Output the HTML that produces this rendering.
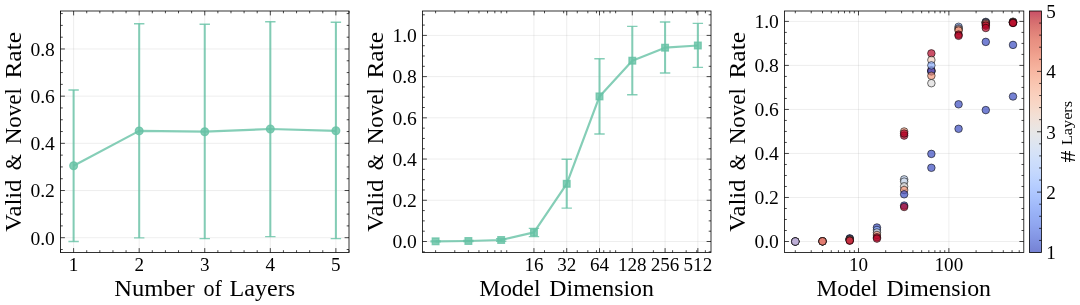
<!DOCTYPE html>
<html><head><meta charset="utf-8"><title>Valid &amp; Novel Rate</title>
<style>html,body{margin:0;padding:0;background:#fff}svg{display:block}</style></head>
<body>
<svg width="1080" height="305" viewBox="0 0 1080 305" font-family="'Liberation Serif', 'DejaVu Serif', serif">
<rect width="1080" height="305" fill="#fff"/>
<line x1="73.61" x2="73.61" y1="11.0" y2="252.5" stroke="#b0b0b0" stroke-opacity="0.27" stroke-width="0.8"/>
<line x1="139.18" x2="139.18" y1="11.0" y2="252.5" stroke="#b0b0b0" stroke-opacity="0.27" stroke-width="0.8"/>
<line x1="204.75" x2="204.75" y1="11.0" y2="252.5" stroke="#b0b0b0" stroke-opacity="0.27" stroke-width="0.8"/>
<line x1="270.32" x2="270.32" y1="11.0" y2="252.5" stroke="#b0b0b0" stroke-opacity="0.27" stroke-width="0.8"/>
<line x1="335.89" x2="335.89" y1="11.0" y2="252.5" stroke="#b0b0b0" stroke-opacity="0.27" stroke-width="0.8"/>
<line x1="60.5" x2="349" y1="237.7" y2="237.7" stroke="#b0b0b0" stroke-opacity="0.27" stroke-width="0.8"/>
<line x1="60.5" x2="349" y1="190.52" y2="190.52" stroke="#b0b0b0" stroke-opacity="0.27" stroke-width="0.8"/>
<line x1="60.5" x2="349" y1="143.34" y2="143.34" stroke="#b0b0b0" stroke-opacity="0.27" stroke-width="0.8"/>
<line x1="60.5" x2="349" y1="96.16" y2="96.16" stroke="#b0b0b0" stroke-opacity="0.27" stroke-width="0.8"/>
<line x1="60.5" x2="349" y1="48.98" y2="48.98" stroke="#b0b0b0" stroke-opacity="0.27" stroke-width="0.8"/>
<g stroke="#66c2a5" fill="#66c2a5" stroke-opacity="0.8" fill-opacity="0.8">
<path d="M73.61 165.7L139.18 130.9L204.75 131.7L270.32 129L335.89 130.8" fill="none" stroke-width="2.2" stroke-linejoin="round"/>
<circle cx="73.61" cy="165.7" r="3.85" stroke-width="1.33"/>
<circle cx="139.18" cy="130.9" r="3.85" stroke-width="1.33"/>
<circle cx="204.75" cy="131.7" r="3.85" stroke-width="1.33"/>
<circle cx="270.32" cy="129" r="3.85" stroke-width="1.33"/>
<circle cx="335.89" cy="130.8" r="3.85" stroke-width="1.33"/>
<line x1="73.61" x2="73.61" y1="90" y2="241.5" stroke-width="2.05"/>
<line x1="139.18" x2="139.18" y1="23.7" y2="237.9" stroke-width="2.05"/>
<line x1="204.75" x2="204.75" y1="24.3" y2="238.6" stroke-width="2.05"/>
<line x1="270.32" x2="270.32" y1="21.7" y2="236.6" stroke-width="2.05"/>
<line x1="335.89" x2="335.89" y1="22.3" y2="238.6" stroke-width="2.05"/>
<path d="M68.41 90h10.4M68.41 241.5h10.4M133.98 23.7h10.4M133.98 237.9h10.4M199.55 24.3h10.4M199.55 238.6h10.4M265.12 21.7h10.4M265.12 236.6h10.4M330.69 22.3h10.4M330.69 238.6h10.4" fill="none" stroke-width="1.4"/>
</g>
<path d="M73.61 252.5v-4.4M73.61 11v4.4M139.18 252.5v-4.4M139.18 11v4.4M204.75 252.5v-4.4M204.75 11v4.4M270.32 252.5v-4.4M270.32 11v4.4M335.89 252.5v-4.4M335.89 11v4.4M60.5 252.5v-2.3M60.5 11v2.3M86.73 252.5v-2.3M86.73 11v2.3M99.84 252.5v-2.3M99.84 11v2.3M112.95 252.5v-2.3M112.95 11v2.3M126.07 252.5v-2.3M126.07 11v2.3M152.3 252.5v-2.3M152.3 11v2.3M165.41 252.5v-2.3M165.41 11v2.3M178.52 252.5v-2.3M178.52 11v2.3M191.64 252.5v-2.3M191.64 11v2.3M217.86 252.5v-2.3M217.86 11v2.3M230.98 252.5v-2.3M230.98 11v2.3M244.09 252.5v-2.3M244.09 11v2.3M257.2 252.5v-2.3M257.2 11v2.3M283.43 252.5v-2.3M283.43 11v2.3M296.55 252.5v-2.3M296.55 11v2.3M309.66 252.5v-2.3M309.66 11v2.3M322.77 252.5v-2.3M322.77 11v2.3M349 252.5v-2.3M349 11v2.3M60.5 237.7h4.4M349 237.7h-4.4M60.5 190.52h4.4M349 190.52h-4.4M60.5 143.34h4.4M349 143.34h-4.4M60.5 96.16h4.4M349 96.16h-4.4M60.5 48.98h4.4M349 48.98h-4.4M60.5 249.5h2.3M349 249.5h-2.3M60.5 225.9h2.3M349 225.9h-2.3M60.5 214.11h2.3M349 214.11h-2.3M60.5 202.31h2.3M349 202.31h-2.3M60.5 178.72h2.3M349 178.72h-2.3M60.5 166.93h2.3M349 166.93h-2.3M60.5 155.13h2.3M349 155.13h-2.3M60.5 131.54h2.3M349 131.54h-2.3M60.5 119.75h2.3M349 119.75h-2.3M60.5 107.95h2.3M349 107.95h-2.3M60.5 84.36h2.3M349 84.36h-2.3M60.5 72.57h2.3M349 72.57h-2.3M60.5 60.77h2.3M349 60.77h-2.3M60.5 37.19h2.3M349 37.19h-2.3M60.5 25.39h2.3M349 25.39h-2.3M60.5 13.59h2.3M349 13.59h-2.3" stroke="#000" stroke-width="0.72" fill="none"/>
<rect x="60.5" y="11.0" width="288.5" height="241.5" fill="none" stroke="#000" stroke-width="0.8"/>
<text x="73.61" y="270.7" font-size="19.5" text-anchor="middle" fill="#000" textLength="9.55" lengthAdjust="spacingAndGlyphs">1</text>
<text x="139.18" y="270.7" font-size="19.5" text-anchor="middle" fill="#000" textLength="9.55" lengthAdjust="spacingAndGlyphs">2</text>
<text x="204.75" y="270.7" font-size="19.5" text-anchor="middle" fill="#000" textLength="9.55" lengthAdjust="spacingAndGlyphs">3</text>
<text x="270.32" y="270.7" font-size="19.5" text-anchor="middle" fill="#000" textLength="9.55" lengthAdjust="spacingAndGlyphs">4</text>
<text x="335.89" y="270.7" font-size="19.5" text-anchor="middle" fill="#000" textLength="9.55" lengthAdjust="spacingAndGlyphs">5</text>
<text x="54.9" y="244.5" font-size="19.5" text-anchor="end" fill="#000" textLength="24.5" lengthAdjust="spacingAndGlyphs">0.0</text>
<text x="54.9" y="197.32" font-size="19.5" text-anchor="end" fill="#000" textLength="24.5" lengthAdjust="spacingAndGlyphs">0.2</text>
<text x="54.9" y="150.14" font-size="19.5" text-anchor="end" fill="#000" textLength="24.5" lengthAdjust="spacingAndGlyphs">0.4</text>
<text x="54.9" y="102.96" font-size="19.5" text-anchor="end" fill="#000" textLength="24.5" lengthAdjust="spacingAndGlyphs">0.6</text>
<text x="54.9" y="55.78" font-size="19.5" text-anchor="end" fill="#000" textLength="24.5" lengthAdjust="spacingAndGlyphs">0.8</text>
<text x="114.2" y="295.7" font-size="23.2" text-anchor="start" fill="#000" textLength="80.4" lengthAdjust="spacingAndGlyphs">Number</text>
<text x="203.4" y="295.7" font-size="23.2" text-anchor="start" fill="#000" textLength="18.5" lengthAdjust="spacingAndGlyphs">of</text>
<text x="229.6" y="295.7" font-size="23.2" text-anchor="start" fill="#000" textLength="65.5" lengthAdjust="spacingAndGlyphs">Layers</text>
<text x="21.3" y="231.7" font-size="23.2" text-anchor="start" fill="#000" textLength="52.2" lengthAdjust="spacingAndGlyphs" transform="rotate(-90 21.3 231.7)">Valid</text>
<text x="21.3" y="170.2" font-size="23.2" text-anchor="start" fill="#000" textLength="16.1" lengthAdjust="spacingAndGlyphs" transform="rotate(-90 21.3 170.2)">&amp;</text>
<text x="21.3" y="144.3" font-size="23.2" text-anchor="start" fill="#000" textLength="56.1" lengthAdjust="spacingAndGlyphs" transform="rotate(-90 21.3 144.3)">Novel</text>
<text x="21.3" y="78.6" font-size="23.2" text-anchor="start" fill="#000" textLength="46.6" lengthAdjust="spacingAndGlyphs" transform="rotate(-90 21.3 78.6)">Rate</text>
<line x1="533.95" x2="533.95" y1="11.0" y2="252.5" stroke="#b0b0b0" stroke-opacity="0.27" stroke-width="0.8"/>
<line x1="566.73" x2="566.73" y1="11.0" y2="252.5" stroke="#b0b0b0" stroke-opacity="0.27" stroke-width="0.8"/>
<line x1="599.51" x2="599.51" y1="11.0" y2="252.5" stroke="#b0b0b0" stroke-opacity="0.27" stroke-width="0.8"/>
<line x1="632.29" x2="632.29" y1="11.0" y2="252.5" stroke="#b0b0b0" stroke-opacity="0.27" stroke-width="0.8"/>
<line x1="665.08" x2="665.08" y1="11.0" y2="252.5" stroke="#b0b0b0" stroke-opacity="0.27" stroke-width="0.8"/>
<line x1="697.86" x2="697.86" y1="11.0" y2="252.5" stroke="#b0b0b0" stroke-opacity="0.27" stroke-width="0.8"/>
<line x1="422.5" x2="711" y1="241.5" y2="241.5" stroke="#b0b0b0" stroke-opacity="0.27" stroke-width="0.8"/>
<line x1="422.5" x2="711" y1="200.28" y2="200.28" stroke="#b0b0b0" stroke-opacity="0.27" stroke-width="0.8"/>
<line x1="422.5" x2="711" y1="159.06" y2="159.06" stroke="#b0b0b0" stroke-opacity="0.27" stroke-width="0.8"/>
<line x1="422.5" x2="711" y1="117.84" y2="117.84" stroke="#b0b0b0" stroke-opacity="0.27" stroke-width="0.8"/>
<line x1="422.5" x2="711" y1="76.62" y2="76.62" stroke="#b0b0b0" stroke-opacity="0.27" stroke-width="0.8"/>
<line x1="422.5" x2="711" y1="35.4" y2="35.4" stroke="#b0b0b0" stroke-opacity="0.27" stroke-width="0.8"/>
<g stroke="#66c2a5" fill="#66c2a5" stroke-opacity="0.8" fill-opacity="0.8">
<path d="M435.6 241.3L468.38 241L501.16 240L533.95 232.4L566.73 183.8L599.51 96.4L632.29 60.7L665.08 47.7L697.86 45.5" fill="none" stroke-width="2.2" stroke-linejoin="round"/>
<rect x="432.28" y="237.98" width="6.64" height="6.64" stroke-width="1.33"/>
<rect x="465.06" y="237.68" width="6.64" height="6.64" stroke-width="1.33"/>
<rect x="497.84" y="236.68" width="6.64" height="6.64" stroke-width="1.33"/>
<rect x="530.63" y="229.08" width="6.64" height="6.64" stroke-width="1.33"/>
<rect x="563.41" y="180.48" width="6.64" height="6.64" stroke-width="1.33"/>
<rect x="596.19" y="93.08" width="6.64" height="6.64" stroke-width="1.33"/>
<rect x="628.97" y="57.38" width="6.64" height="6.64" stroke-width="1.33"/>
<rect x="661.76" y="44.38" width="6.64" height="6.64" stroke-width="1.33"/>
<rect x="694.54" y="42.18" width="6.64" height="6.64" stroke-width="1.33"/>
<line x1="435.6" x2="435.6" y1="240.9" y2="241.7" stroke-width="2.05"/>
<line x1="468.38" x2="468.38" y1="240.4" y2="241.6" stroke-width="2.05"/>
<line x1="501.16" x2="501.16" y1="238.8" y2="241.2" stroke-width="2.05"/>
<line x1="533.95" x2="533.95" y1="228.4" y2="236.6" stroke-width="2.05"/>
<line x1="566.73" x2="566.73" y1="159.2" y2="208.1" stroke-width="2.05"/>
<line x1="599.51" x2="599.51" y1="58.8" y2="134" stroke-width="2.05"/>
<line x1="632.29" x2="632.29" y1="26.4" y2="94.7" stroke-width="2.05"/>
<line x1="665.08" x2="665.08" y1="22" y2="73" stroke-width="2.05"/>
<line x1="697.86" x2="697.86" y1="23.4" y2="67.4" stroke-width="2.05"/>
<path d="M430.4 240.9h10.4M430.4 241.7h10.4M463.18 240.4h10.4M463.18 241.6h10.4M495.96 238.8h10.4M495.96 241.2h10.4M528.75 228.4h10.4M528.75 236.6h10.4M561.53 159.2h10.4M561.53 208.1h10.4M594.31 58.8h10.4M594.31 134h10.4M627.09 26.4h10.4M627.09 94.7h10.4M659.88 22h10.4M659.88 73h10.4M692.66 23.4h10.4M692.66 67.4h10.4" fill="none" stroke-width="1.4"/>
</g>
<path d="M533.95 252.5v-4.4M533.95 11v4.4M566.73 252.5v-4.4M566.73 11v4.4M599.51 252.5v-4.4M599.51 11v4.4M632.29 252.5v-4.4M632.29 11v4.4M665.08 252.5v-4.4M665.08 11v4.4M697.86 252.5v-4.4M697.86 11v4.4M435.6 252.5v-2.3M435.6 11v2.3M454.78 252.5v-2.3M454.78 11v2.3M468.38 252.5v-2.3M468.38 11v2.3M478.94 252.5v-2.3M478.94 11v2.3M487.56 252.5v-2.3M487.56 11v2.3M494.85 252.5v-2.3M494.85 11v2.3M501.16 252.5v-2.3M501.16 11v2.3M506.73 252.5v-2.3M506.73 11v2.3M544.5 252.5v-2.3M544.5 11v2.3M563.68 252.5v-2.3M563.68 11v2.3M577.28 252.5v-2.3M577.28 11v2.3M587.84 252.5v-2.3M587.84 11v2.3M596.46 252.5v-2.3M596.46 11v2.3M603.75 252.5v-2.3M603.75 11v2.3M610.06 252.5v-2.3M610.06 11v2.3M615.63 252.5v-2.3M615.63 11v2.3M653.4 252.5v-2.3M653.4 11v2.3M672.58 252.5v-2.3M672.58 11v2.3M686.18 252.5v-2.3M686.18 11v2.3M696.74 252.5v-2.3M696.74 11v2.3M705.36 252.5v-2.3M705.36 11v2.3M422.5 241.5h4.4M711 241.5h-4.4M422.5 200.28h4.4M711 200.28h-4.4M422.5 159.06h4.4M711 159.06h-4.4M422.5 117.84h4.4M711 117.84h-4.4M422.5 76.62h4.4M711 76.62h-4.4M422.5 35.4h4.4M711 35.4h-4.4M422.5 251.81h2.3M711 251.81h-2.3M422.5 231.19h2.3M711 231.19h-2.3M422.5 220.89h2.3M711 220.89h-2.3M422.5 210.59h2.3M711 210.59h-2.3M422.5 189.97h2.3M711 189.97h-2.3M422.5 179.67h2.3M711 179.67h-2.3M422.5 169.37h2.3M711 169.37h-2.3M422.5 148.75h2.3M711 148.75h-2.3M422.5 138.45h2.3M711 138.45h-2.3M422.5 128.14h2.3M711 128.14h-2.3M422.5 107.53h2.3M711 107.53h-2.3M422.5 97.23h2.3M711 97.23h-2.3M422.5 86.93h2.3M711 86.93h-2.3M422.5 66.31h2.3M711 66.31h-2.3M422.5 56.01h2.3M711 56.01h-2.3M422.5 45.71h2.3M711 45.71h-2.3M422.5 25.09h2.3M711 25.09h-2.3M422.5 14.79h2.3M711 14.79h-2.3" stroke="#000" stroke-width="0.72" fill="none"/>
<rect x="422.5" y="11.0" width="288.5" height="241.5" fill="none" stroke="#000" stroke-width="0.8"/>
<text x="533.95" y="270.7" font-size="19.5" text-anchor="middle" fill="#000" textLength="19.1" lengthAdjust="spacingAndGlyphs">16</text>
<text x="566.73" y="270.7" font-size="19.5" text-anchor="middle" fill="#000" textLength="19.1" lengthAdjust="spacingAndGlyphs">32</text>
<text x="599.51" y="270.7" font-size="19.5" text-anchor="middle" fill="#000" textLength="19.1" lengthAdjust="spacingAndGlyphs">64</text>
<text x="632.29" y="270.7" font-size="19.5" text-anchor="middle" fill="#000" textLength="28.65" lengthAdjust="spacingAndGlyphs">128</text>
<text x="665.08" y="270.7" font-size="19.5" text-anchor="middle" fill="#000" textLength="28.65" lengthAdjust="spacingAndGlyphs">256</text>
<text x="697.86" y="270.7" font-size="19.5" text-anchor="middle" fill="#000" textLength="28.65" lengthAdjust="spacingAndGlyphs">512</text>
<text x="416.9" y="248.3" font-size="19.5" text-anchor="end" fill="#000" textLength="24.5" lengthAdjust="spacingAndGlyphs">0.0</text>
<text x="416.9" y="207.08" font-size="19.5" text-anchor="end" fill="#000" textLength="24.5" lengthAdjust="spacingAndGlyphs">0.2</text>
<text x="416.9" y="165.86" font-size="19.5" text-anchor="end" fill="#000" textLength="24.5" lengthAdjust="spacingAndGlyphs">0.4</text>
<text x="416.9" y="124.64" font-size="19.5" text-anchor="end" fill="#000" textLength="24.5" lengthAdjust="spacingAndGlyphs">0.6</text>
<text x="416.9" y="83.42" font-size="19.5" text-anchor="end" fill="#000" textLength="24.5" lengthAdjust="spacingAndGlyphs">0.8</text>
<text x="416.9" y="42.2" font-size="19.5" text-anchor="end" fill="#000" textLength="24.5" lengthAdjust="spacingAndGlyphs">1.0</text>
<text x="479.3" y="295.7" font-size="23.2" text-anchor="start" fill="#000" textLength="61.2" lengthAdjust="spacingAndGlyphs">Model</text>
<text x="549.3" y="295.7" font-size="23.2" text-anchor="start" fill="#000" textLength="104.6" lengthAdjust="spacingAndGlyphs">Dimension</text>
<text x="383.2" y="231.7" font-size="23.2" text-anchor="start" fill="#000" textLength="52.2" lengthAdjust="spacingAndGlyphs" transform="rotate(-90 383.2 231.7)">Valid</text>
<text x="383.2" y="170.2" font-size="23.2" text-anchor="start" fill="#000" textLength="16.1" lengthAdjust="spacingAndGlyphs" transform="rotate(-90 383.2 170.2)">&amp;</text>
<text x="383.2" y="144.3" font-size="23.2" text-anchor="start" fill="#000" textLength="56.1" lengthAdjust="spacingAndGlyphs" transform="rotate(-90 383.2 144.3)">Novel</text>
<text x="383.2" y="78.6" font-size="23.2" text-anchor="start" fill="#000" textLength="46.6" lengthAdjust="spacingAndGlyphs" transform="rotate(-90 383.2 78.6)">Rate</text>
<line x1="858.49" x2="858.49" y1="11.0" y2="252.5" stroke="#b0b0b0" stroke-opacity="0.27" stroke-width="0.8"/>
<line x1="948.89" x2="948.89" y1="11.0" y2="252.5" stroke="#b0b0b0" stroke-opacity="0.27" stroke-width="0.8"/>
<line x1="784.5" x2="1023.8" y1="241.5" y2="241.5" stroke="#b0b0b0" stroke-opacity="0.27" stroke-width="0.8"/>
<line x1="784.5" x2="1023.8" y1="197.48" y2="197.48" stroke="#b0b0b0" stroke-opacity="0.27" stroke-width="0.8"/>
<line x1="784.5" x2="1023.8" y1="153.46" y2="153.46" stroke="#b0b0b0" stroke-opacity="0.27" stroke-width="0.8"/>
<line x1="784.5" x2="1023.8" y1="109.44" y2="109.44" stroke="#b0b0b0" stroke-opacity="0.27" stroke-width="0.8"/>
<line x1="784.5" x2="1023.8" y1="65.42" y2="65.42" stroke="#b0b0b0" stroke-opacity="0.27" stroke-width="0.8"/>
<line x1="784.5" x2="1023.8" y1="21.4" y2="21.4" stroke="#b0b0b0" stroke-opacity="0.27" stroke-width="0.8"/>
<g stroke="#000" stroke-width="0.8" stroke-opacity="0.7" fill-opacity="0.7">
<circle cx="795.3" cy="241.5" r="3.78" fill="#b40426"/>
<circle cx="795.3" cy="241.5" r="3.78" fill="#f4987a"/>
<circle cx="795.3" cy="241.5" r="3.78" fill="#dddcdc"/>
<circle cx="795.3" cy="241.5" r="3.78" fill="#3b4cc0"/>
<circle cx="795.3" cy="241.5" r="3.78" fill="#beafd7" fill-opacity="1"/>
<circle cx="822.51" cy="241.3" r="3.78" fill="#3b4cc0"/>
<circle cx="822.51" cy="241.3" r="3.78" fill="#8db0fe"/>
<circle cx="822.51" cy="241.3" r="3.78" fill="#dddcdc"/>
<circle cx="822.51" cy="241.3" r="3.78" fill="#b40426"/>
<circle cx="822.51" cy="241.3" r="3.78" fill="#f4987a"/>
<circle cx="849.73" cy="238.4" r="3.78" fill="#3b4cc0"/>
<circle cx="849.73" cy="238.8" r="3.78" fill="#8db0fe"/>
<circle cx="849.73" cy="239.2" r="3.78" fill="#8db0fe"/>
<circle cx="849.73" cy="239.6" r="3.78" fill="#dddcdc"/>
<circle cx="849.73" cy="240" r="3.78" fill="#f4987a"/>
<circle cx="849.73" cy="240.4" r="3.78" fill="#f4987a"/>
<circle cx="849.73" cy="240.7" r="3.78" fill="#b40426"/>
<circle cx="876.94" cy="227.5" r="3.78" fill="#3b4cc0"/>
<circle cx="876.94" cy="230" r="3.78" fill="#8db0fe"/>
<circle cx="876.94" cy="232.5" r="3.78" fill="#dddcdc"/>
<circle cx="876.94" cy="235" r="3.78" fill="#f4987a"/>
<circle cx="876.94" cy="237.3" r="3.78" fill="#b40426"/>
<circle cx="876.94" cy="238.6" r="3.78" fill="#b40426"/>
<circle cx="904.15" cy="131.5" r="3.78" fill="#f4987a"/>
<circle cx="904.15" cy="135.6" r="3.78" fill="#b40426"/>
<circle cx="904.15" cy="133.5" r="3.78" fill="#b40426"/>
<circle cx="904.15" cy="179.4" r="3.78" fill="#c0d4f5"/>
<circle cx="904.15" cy="181.6" r="3.78" fill="#cfdaea"/>
<circle cx="904.15" cy="186.4" r="3.78" fill="#dddcdc"/>
<circle cx="904.15" cy="190" r="3.78" fill="#f4987a"/>
<circle cx="904.15" cy="194.3" r="3.78" fill="#3b4cc0"/>
<circle cx="904.15" cy="205.6" r="3.78" fill="#3b4cc0"/>
<circle cx="904.15" cy="207" r="3.78" fill="#b40426"/>
<circle cx="931.37" cy="53.4" r="3.78" fill="#b40426"/>
<circle cx="931.37" cy="60" r="3.78" fill="#eed0c0"/>
<circle cx="931.37" cy="71.6" r="3.78" fill="#3b4cc0"/>
<circle cx="931.37" cy="70.2" r="3.78" fill="#b40426"/>
<circle cx="931.37" cy="71" r="3.78" fill="#516ddb"/>
<circle cx="931.37" cy="75.8" r="3.78" fill="#f4987a"/>
<circle cx="931.37" cy="65.4" r="3.78" fill="#8db0fe"/>
<circle cx="931.37" cy="83.2" r="3.78" fill="#dddcdc"/>
<circle cx="931.37" cy="153.9" r="3.78" fill="#3b4cc0"/>
<circle cx="931.37" cy="167.8" r="3.78" fill="#3b4cc0"/>
<circle cx="958.58" cy="26.8" r="3.78" fill="#8db0fe"/>
<circle cx="958.58" cy="28.4" r="3.78" fill="#afcafc"/>
<circle cx="958.58" cy="29.4" r="3.78" fill="#f4987a"/>
<circle cx="958.58" cy="30.6" r="3.78" fill="#f4987a"/>
<circle cx="958.58" cy="34.6" r="3.78" fill="#b40426"/>
<circle cx="958.58" cy="35.8" r="3.78" fill="#b40426"/>
<circle cx="958.58" cy="104.3" r="3.78" fill="#3b4cc0"/>
<circle cx="958.58" cy="128.8" r="3.78" fill="#3b4cc0"/>
<circle cx="985.79" cy="21.9" r="3.78" fill="#8db0fe"/>
<circle cx="985.79" cy="22.3" r="3.78" fill="#dddcdc"/>
<circle cx="985.79" cy="22.6" r="3.78" fill="#7b9ff9"/>
<circle cx="985.79" cy="23.2" r="3.78" fill="#f4987a"/>
<circle cx="985.79" cy="24.2" r="3.78" fill="#d65244"/>
<circle cx="985.79" cy="25.6" r="3.78" fill="#b40426"/>
<circle cx="985.79" cy="28" r="3.78" fill="#b40426"/>
<circle cx="985.79" cy="41.9" r="3.78" fill="#3b4cc0"/>
<circle cx="985.79" cy="110.1" r="3.78" fill="#3b4cc0"/>
<circle cx="1013" cy="21.7" r="3.78" fill="#8db0fe"/>
<circle cx="1013" cy="22" r="3.78" fill="#dddcdc"/>
<circle cx="1013" cy="22.2" r="3.78" fill="#dddcdc"/>
<circle cx="1013" cy="22.4" r="3.78" fill="#f4987a"/>
<circle cx="1013" cy="22.6" r="3.78" fill="#f4987a"/>
<circle cx="1013" cy="22.8" r="3.78" fill="#b40426"/>
<circle cx="1013" cy="23" r="3.78" fill="#b40426"/>
<circle cx="1013" cy="44.9" r="3.78" fill="#3b4cc0"/>
<circle cx="1013" cy="96.5" r="3.78" fill="#3b4cc0"/>
</g>
<path d="M858.49 252.5v-4.4M858.49 11v4.4M948.89 252.5v-4.4M948.89 11v4.4M795.3 252.5v-2.3M795.3 11v2.3M811.22 252.5v-2.3M811.22 11v2.3M822.51 252.5v-2.3M822.51 11v2.3M831.27 252.5v-2.3M831.27 11v2.3M838.43 252.5v-2.3M838.43 11v2.3M844.48 252.5v-2.3M844.48 11v2.3M849.73 252.5v-2.3M849.73 11v2.3M854.35 252.5v-2.3M854.35 11v2.3M885.7 252.5v-2.3M885.7 11v2.3M901.62 252.5v-2.3M901.62 11v2.3M912.91 252.5v-2.3M912.91 11v2.3M921.67 252.5v-2.3M921.67 11v2.3M928.83 252.5v-2.3M928.83 11v2.3M934.88 252.5v-2.3M934.88 11v2.3M940.13 252.5v-2.3M940.13 11v2.3M944.75 252.5v-2.3M944.75 11v2.3M976.1 252.5v-2.3M976.1 11v2.3M992.02 252.5v-2.3M992.02 11v2.3M1003.31 252.5v-2.3M1003.31 11v2.3M1012.07 252.5v-2.3M1012.07 11v2.3M1019.23 252.5v-2.3M1019.23 11v2.3M784.5 241.5h4.4M1023.8 241.5h-4.4M784.5 197.48h4.4M1023.8 197.48h-4.4M784.5 153.46h4.4M1023.8 153.46h-4.4M784.5 109.44h4.4M1023.8 109.44h-4.4M784.5 65.42h4.4M1023.8 65.42h-4.4M784.5 21.4h4.4M1023.8 21.4h-4.4M784.5 230.5h2.3M1023.8 230.5h-2.3M784.5 219.49h2.3M1023.8 219.49h-2.3M784.5 208.49h2.3M1023.8 208.49h-2.3M784.5 186.47h2.3M1023.8 186.47h-2.3M784.5 175.47h2.3M1023.8 175.47h-2.3M784.5 164.47h2.3M1023.8 164.47h-2.3M784.5 142.45h2.3M1023.8 142.45h-2.3M784.5 131.45h2.3M1023.8 131.45h-2.3M784.5 120.44h2.3M1023.8 120.44h-2.3M784.5 98.44h2.3M1023.8 98.44h-2.3M784.5 87.43h2.3M1023.8 87.43h-2.3M784.5 76.43h2.3M1023.8 76.43h-2.3M784.5 54.42h2.3M1023.8 54.42h-2.3M784.5 43.41h2.3M1023.8 43.41h-2.3M784.5 32.41h2.3M1023.8 32.41h-2.3" stroke="#000" stroke-width="0.72" fill="none"/>
<rect x="784.5" y="11.0" width="239.3" height="241.5" fill="none" stroke="#000" stroke-width="0.8"/>
<text x="858.49" y="270.7" font-size="19.5" text-anchor="middle" fill="#000" textLength="19.1" lengthAdjust="spacingAndGlyphs">10</text>
<text x="948.89" y="270.7" font-size="19.5" text-anchor="middle" fill="#000" textLength="28.65" lengthAdjust="spacingAndGlyphs">100</text>
<text x="778.9" y="248.3" font-size="19.5" text-anchor="end" fill="#000" textLength="24.5" lengthAdjust="spacingAndGlyphs">0.0</text>
<text x="778.9" y="204.28" font-size="19.5" text-anchor="end" fill="#000" textLength="24.5" lengthAdjust="spacingAndGlyphs">0.2</text>
<text x="778.9" y="160.26" font-size="19.5" text-anchor="end" fill="#000" textLength="24.5" lengthAdjust="spacingAndGlyphs">0.4</text>
<text x="778.9" y="116.24" font-size="19.5" text-anchor="end" fill="#000" textLength="24.5" lengthAdjust="spacingAndGlyphs">0.6</text>
<text x="778.9" y="72.22" font-size="19.5" text-anchor="end" fill="#000" textLength="24.5" lengthAdjust="spacingAndGlyphs">0.8</text>
<text x="778.9" y="28.2" font-size="19.5" text-anchor="end" fill="#000" textLength="24.5" lengthAdjust="spacingAndGlyphs">1.0</text>
<text x="816.4" y="295.7" font-size="23.2" text-anchor="start" fill="#000" textLength="61.2" lengthAdjust="spacingAndGlyphs">Model</text>
<text x="886.4" y="295.7" font-size="23.2" text-anchor="start" fill="#000" textLength="104.6" lengthAdjust="spacingAndGlyphs">Dimension</text>
<text x="744.6" y="231.7" font-size="23.2" text-anchor="start" fill="#000" textLength="52.2" lengthAdjust="spacingAndGlyphs" transform="rotate(-90 744.6 231.7)">Valid</text>
<text x="744.6" y="170.2" font-size="23.2" text-anchor="start" fill="#000" textLength="16.1" lengthAdjust="spacingAndGlyphs" transform="rotate(-90 744.6 170.2)">&amp;</text>
<text x="744.6" y="144.3" font-size="23.2" text-anchor="start" fill="#000" textLength="56.1" lengthAdjust="spacingAndGlyphs" transform="rotate(-90 744.6 144.3)">Novel</text>
<text x="744.6" y="78.6" font-size="23.2" text-anchor="start" fill="#000" textLength="46.6" lengthAdjust="spacingAndGlyphs" transform="rotate(-90 744.6 78.6)">Rate</text>
<defs><linearGradient id="cw" x1="0" y1="1" x2="0" y2="0">
<stop offset="0" stop-color="#3b4cc0"/>
<stop offset="0.03" stop-color="#445acc"/>
<stop offset="0.06" stop-color="#4e68d8"/>
<stop offset="0.09" stop-color="#5875e1"/>
<stop offset="0.12" stop-color="#6282ea"/>
<stop offset="0.16" stop-color="#6c8ff1"/>
<stop offset="0.19" stop-color="#779af7"/>
<stop offset="0.22" stop-color="#82a6fb"/>
<stop offset="0.25" stop-color="#8db0fe"/>
<stop offset="0.28" stop-color="#98b9ff"/>
<stop offset="0.31" stop-color="#a3c2fe"/>
<stop offset="0.34" stop-color="#aec9fc"/>
<stop offset="0.38" stop-color="#b9d0f9"/>
<stop offset="0.41" stop-color="#c3d5f4"/>
<stop offset="0.44" stop-color="#ccd9ed"/>
<stop offset="0.47" stop-color="#d5dbe5"/>
<stop offset="0.5" stop-color="#dddcdc"/>
<stop offset="0.53" stop-color="#e5d8d1"/>
<stop offset="0.56" stop-color="#ecd3c5"/>
<stop offset="0.59" stop-color="#f1ccb8"/>
<stop offset="0.62" stop-color="#f5c4ac"/>
<stop offset="0.66" stop-color="#f7ba9f"/>
<stop offset="0.69" stop-color="#f7b093"/>
<stop offset="0.72" stop-color="#f6a586"/>
<stop offset="0.75" stop-color="#f4987a"/>
<stop offset="0.78" stop-color="#f08b6e"/>
<stop offset="0.81" stop-color="#eb7d62"/>
<stop offset="0.84" stop-color="#e46e56"/>
<stop offset="0.88" stop-color="#dd5f4b"/>
<stop offset="0.91" stop-color="#d44e41"/>
<stop offset="0.94" stop-color="#ca3b37"/>
<stop offset="0.97" stop-color="#be242e"/>
<stop offset="1" stop-color="#b40426"/>
</linearGradient></defs>
<rect x="1029.4" y="11.0" width="12" height="241.5" fill="url(#cw)" fill-opacity="0.7"/>
<path d="M1041.4 240.43h-2.3M1041.4 228.35h-2.3M1041.4 216.27h-2.3M1041.4 204.2h-2.3M1041.4 192.12h-4.4M1041.4 180.05h-2.3M1041.4 167.98h-2.3M1041.4 155.9h-2.3M1041.4 143.83h-2.3M1041.4 131.75h-4.4M1041.4 119.67h-2.3M1041.4 107.6h-2.3M1041.4 95.53h-2.3M1041.4 83.45h-2.3M1041.4 71.38h-4.4M1041.4 59.3h-2.3M1041.4 47.22h-2.3M1041.4 35.15h-2.3M1041.4 23.08h-2.3" stroke="#000" stroke-width="0.72" fill="none"/>
<rect x="1029.4" y="11.0" width="12" height="241.5" fill="none" stroke="#000" stroke-width="0.8"/>
<text x="1046.3" y="259.4" font-size="19.5" text-anchor="start" fill="#000" textLength="9.55" lengthAdjust="spacingAndGlyphs">1</text>
<text x="1046.3" y="199.03" font-size="19.5" text-anchor="start" fill="#000" textLength="9.55" lengthAdjust="spacingAndGlyphs">2</text>
<text x="1046.3" y="138.65" font-size="19.5" text-anchor="start" fill="#000" textLength="9.55" lengthAdjust="spacingAndGlyphs">3</text>
<text x="1046.3" y="78.28" font-size="19.5" text-anchor="start" fill="#000" textLength="9.55" lengthAdjust="spacingAndGlyphs">4</text>
<text x="1046.3" y="17.9" font-size="19.5" text-anchor="start" fill="#000" textLength="9.55" lengthAdjust="spacingAndGlyphs">5</text>
<text x="1075" y="162.4" font-size="20" text-anchor="start" fill="#000" textLength="12" lengthAdjust="spacingAndGlyphs" transform="rotate(-90 1075 162.4)">#</text>
<text x="1072.4" y="145.1" font-size="15.6" text-anchor="start" fill="#000" textLength="44.2" lengthAdjust="spacingAndGlyphs" transform="rotate(-90 1072.4 145.1)">Layers</text>
</svg>
</body></html>
